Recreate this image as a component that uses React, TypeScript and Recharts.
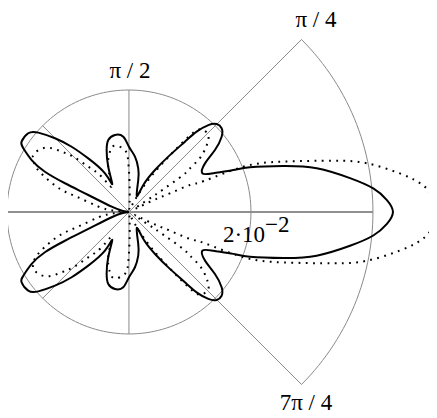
import React from 'react';
import { ScatterChart, Scatter, XAxis, YAxis, ReferenceLine, ReferenceDot } from 'recharts';

// Radiation pattern, upper half-plane (the pattern is symmetric about 0°).
// Angles in degrees, radii in units of 10^-2.
const SOLID_THETA = [
  0, 2.7, 5.5, 8.7, 13.1, 16.6, 20.3, 21.9, 24.7, 27.8, 32.6, 35.8, 39.1, 42.1, 45.1,
  47.6, 49.9, 51.5, 54.6, 58.2, 62, 64, 73.8, 78, 83.8, 90, 94.3, 100.3, 106, 109.8,
  114.6, 120.8, 121.8, 127.2, 131.3, 135.1, 138.8, 142, 146.8, 148.9, 151.9, 154.4,
  155.8, 157.3, 163, 170, 180,
];
const SOLID_R = [
  2.164, 2.115, 2.012, 1.833, 1.58, 1.32, 1.057, 0.921, 0.761, 0.68, 0.74, 0.869, 0.979,
  1.024, 1.018, 0.965, 0.861, 0.737, 0.557, 0.405, 0.251, 0.146, 0.273, 0.366, 0.456,
  0.535, 0.619, 0.642, 0.614, 0.54, 0.408, 0.267, 0.373, 0.552, 0.712, 0.856, 0.988,
  1.048, 1.052, 1.011, 0.904, 0.764, 0.575, 0.361, 0.148, 0.05, 0,
];

const DOTTED_THETA = [
  0, 4.5, 8.1, 11.6, 14.1, 18.1, 21.6, 22.4, 23.9, 24.5, 26, 29, 33, 33.5, 34.3, 35.6,
  37.2, 40.2, 42.2, 44.5, 47.8, 50.7, 53, 55.5, 58.5, 62, 67, 78, 86, 89, 90.8, 93.7,
  101.9, 107.5, 115.3, 124.4, 127.7, 131.9, 135.2, 138.5, 142.6, 149.2, 151.5, 154.7,
  160.7, 163.7, 170, 175, 180,
];
const DOTTED_R = [
  2.522, 2.448, 2.243, 1.989, 1.727, 1.33, 1.008, 0.672, 0.547, 0.369, 0.192, 0.05, 0.18,
  0.34, 0.539, 0.615, 0.728, 0.828, 0.877, 0.91, 0.906, 0.852, 0.66, 0.48, 0.32, 0.16,
  0.05, 0.02, 0.08, 0.25, 0.412, 0.508, 0.556, 0.518, 0.396, 0.252, 0.366, 0.5, 0.643,
  0.754, 0.867, 0.913, 0.883, 0.836, 0.628, 0.447, 0.254, 0.123, 0,
];

// Polar frame: full inner ring, outer sector of radius 2 between ±45°.
const INNER_RING = 1;
const OUTER_RING = 2;
const SECTOR_HALF_ANGLE = 45;

const ANGLE_LABELS = ['π / 2', 'π / 4', '7π / 4'];
const RADIUS_LABEL = { mantissa: '2·10', exponent: '−2' };

type Pt = { x: number; y: number };
const RAD = Math.PI / 180;
const polar = (deg: number, r: number): Pt => ({
  x: r * Math.cos(deg * RAD),
  y: r * Math.sin(deg * RAD),
});

// Close the half-plane trace into a full loop by reflecting it about 0°.
function mirroredLoop(theta: number[], r: number[]): Pt[] {
  const pts: Pt[] = [];
  for (let i = theta.length - 1; i >= 1; i--) pts.push(polar(-theta[i], r[i]));
  for (let i = 0; i < theta.length; i++) pts.push(polar(theta[i], r[i]));
  return pts;
}

const solidLoop = mirroredLoop(SOLID_THETA, SOLID_R);
const dottedLoop = mirroredLoop(DOTTED_THETA, DOTTED_R);

const innerRing = Array.from({ length: 181 }, (_, i) => polar(i * 2, INNER_RING));
const outerArc = Array.from({ length: 61 }, (_, i) =>
  polar(-SECTOR_HALF_ANGLE + i * 1.5, OUTER_RING)
);

const noPoint = () => <g />;

const SERIF = 'Liberation Serif';
const FONT_SIZE = 23;
const GRID = '#8a8a8a';

const plainLabel = (text: string) => (props: any) => {
  const vb = props.viewBox || {};
  return (
    <text
      x={vb.x + (vb.width || 0) / 2}
      y={vb.y + (vb.height || 0) / 2}
      textAnchor="middle"
      fontFamily={SERIF}
      fontSize={FONT_SIZE}
      fill="#000"
    >
      {text}
    </text>
  );
};

const powerLabel = (props: any) => {
  const vb = props.viewBox || {};
  return (
    <text
      x={vb.x + (vb.width || 0) / 2}
      y={vb.y + (vb.height || 0) / 2}
      textAnchor="start"
      fontFamily={SERIF}
      fontSize={FONT_SIZE}
      fill="#000"
    >
      <tspan>{RADIUS_LABEL.mantissa}</tspan>
      <tspan dy={-10}>{RADIUS_LABEL.exponent}</tspan>
    </text>
  );
};

const diag = Math.SQRT1_2;

export default function App() {
  return (
    <div style={{ width: 437, height: 418, margin: -8 }}>
      <ScatterChart width={437} height={418} margin={{ top: 0, right: 0, bottom: 0, left: 0 }}>
        <XAxis type="number" dataKey="x" domain={[-1.057, 2.525]} allowDataOverflow hide />
        <YAxis type="number" dataKey="y" domain={[-1.689, 1.738]} allowDataOverflow hide />

        {/* spokes */}
        <ReferenceLine
          segment={[{ x: -INNER_RING, y: 0 }, { x: OUTER_RING, y: 0 }]}
          stroke="#222"
          strokeWidth={1.2}
        />
        <ReferenceLine
          segment={[{ x: 0, y: -INNER_RING }, { x: 0, y: INNER_RING }]}
          stroke={GRID}
          strokeWidth={1}
        />
        <ReferenceLine
          segment={[{ x: 0, y: 0 }, { x: OUTER_RING * diag, y: OUTER_RING * diag }]}
          stroke={GRID}
          strokeWidth={1}
        />
        <ReferenceLine
          segment={[{ x: 0, y: 0 }, { x: OUTER_RING * diag, y: -OUTER_RING * diag }]}
          stroke={GRID}
          strokeWidth={1}
        />
        <ReferenceLine
          segment={[{ x: 0, y: 0 }, { x: -INNER_RING * diag, y: INNER_RING * diag }]}
          stroke={GRID}
          strokeWidth={1}
        />
        <ReferenceLine
          segment={[{ x: 0, y: 0 }, { x: -INNER_RING * diag, y: -INNER_RING * diag }]}
          stroke={GRID}
          strokeWidth={1}
        />

        {/* rings */}
        <Scatter
          data={innerRing}
          line={{ stroke: GRID, strokeWidth: 1, fill: 'none' }}
          lineJointType="linear"
          shape={noPoint}
          isAnimationActive={false}
        />
        <Scatter
          data={outerArc}
          line={{ stroke: GRID, strokeWidth: 1, fill: 'none' }}
          lineJointType="linear"
          shape={noPoint}
          isAnimationActive={false}
        />

        {/* patterns */}
        <Scatter
          data={dottedLoop}
          line={{ stroke: '#000', strokeWidth: 2, strokeDasharray: '1.8 5.4', fill: 'none' }}
          lineJointType="natural"
          shape={noPoint}
          isAnimationActive={false}
        />
        <Scatter
          data={solidLoop}
          line={{ stroke: '#000', strokeWidth: 2, fill: 'none' }}
          lineJointType="natural"
          shape={noPoint}
          isAnimationActive={false}
        />

        {/* labels */}
        <ReferenceDot x={0.008} y={1.098} r={0} fill="none" stroke="none" label={{ content: plainLabel(ANGLE_LABELS[0]) }} />
        <ReferenceDot x={1.533} y={1.516} r={0} fill="none" stroke="none" label={{ content: plainLabel(ANGLE_LABELS[1]) }} />
        <ReferenceDot x={1.451} y={-1.623} r={0} fill="none" stroke="none" label={{ content: plainLabel(ANGLE_LABELS[2]) }} />
        <ReferenceDot x={0.77} y={-0.246} r={0} fill="none" stroke="none" label={{ content: powerLabel }} />
      </ScatterChart>
    </div>
  );
}
